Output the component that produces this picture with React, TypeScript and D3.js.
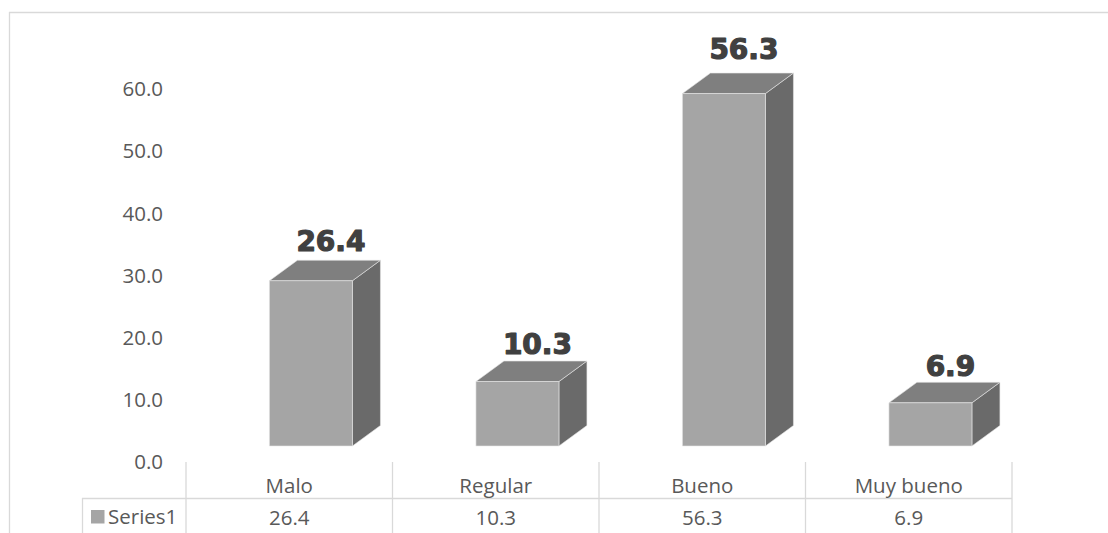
import React from "react";
import * as d3 from "d3";

const categories = ["Malo", "Regular", "Bueno", "Muy bueno"];
const values = [26.4, 10.3, 56.3, 6.9];
const yTicks = [0, 10, 20, 30, 40, 50, 60];
const seriesName = "Series1";

const W = 1108;
const H = 533;

export default function App() {
  const x = d3.scaleBand<string>().domain(categories).range([186, 1012]).paddingInner(0).paddingOuter(0);
  const bw = x.bandwidth();
  const yBar = d3.scaleLinear().domain([0, 60]).range([446, 70.4]);
  const yTickScale = d3.scaleLinear().domain([0, 60]).range([462, 89]);
  const yLabel = d3.scaleLinear().domain([0, 60]).range([420.7, 34.7]);
  const fmt = d3.format(".1f");
  const dx = 28;
  const dy = -20.5;

  const font = "'Open Sans', 'Noto Sans', sans-serif";
  const fs = 20.5;
  const textColor = "#595959";
  const lineColor = "#d9d9d9";

  return (
    <svg width={W} height={H} style={{ position: "absolute", left: 0, top: 0, background: "#fff" }}>
      {/* chart border */}
      <line x1={9} y1={12.5} x2={W} y2={12.5} stroke={lineColor} strokeWidth={1.3} />
      <line x1={9.5} y1={12} x2={9.5} y2={H} stroke={lineColor} strokeWidth={1.3} />

      {/* y tick labels */}
      {yTicks.map((t) => (
        <text key={t} x={163} y={yTickScale(t)} dy="0.35em" textAnchor="end" fontFamily={font} fontSize={fs} fill={textColor}>
          {fmt(t)}
        </text>
      ))}

      {/* bars */}
      {categories.map((c, i) => {
        const v = values[i];
        const x0 = (x(c) as number) + bw * 0.404;
        const w = bw * 0.402;
        const x1 = x0 + w;
        const yt = yBar(v);
        const yb = yBar(0);
        const front = `M${x0},${yb}L${x1},${yb}L${x1},${yt}L${x0},${yt}Z`;
        const top = `M${x0},${yt}L${x0 + dx},${yt + dy}L${x1 + dx},${yt + dy}L${x1},${yt}Z`;
        const side = `M${x1},${yb}L${x1 + dx},${yb + dy}L${x1 + dx},${yt + dy}L${x1},${yt}Z`;
        return (
          <g key={c}>
            <path d={side} fill="#6a6a6a" stroke="#e6e6e6" strokeWidth={0.6} />
            <path d={top} fill="#7f7f7f" stroke="#e6e6e6" strokeWidth={0.6} />
            <path d={front} fill="#a5a5a5" stroke="#e6e6e6" strokeWidth={0.6} />
            <text
              x={x0 + w / 2 + 20}
              y={yLabel(v)}
              textAnchor="middle"
              fontFamily="'DejaVu Sans', sans-serif"
              fontWeight="bold"
              fontSize={28}
              fill="#404040"
              stroke="#404040"
              strokeWidth={1.2}
              strokeLinejoin="round"
            >
              {fmt(v)}
            </text>
          </g>
        );
      })}

      {/* data table */}
      {categories.map((c) => (
        <line key={"v" + c} x1={x(c) as number} y1={462} x2={x(c) as number} y2={H} stroke={lineColor} strokeWidth={1.3} />
      ))}
      <line x1={1012} y1={462} x2={1012} y2={H} stroke={lineColor} strokeWidth={1.3} />
      <line x1={82} y1={498.5} x2={1012} y2={498.5} stroke={lineColor} strokeWidth={1.3} />
      <line x1={82.5} y1={498} x2={82.5} y2={H} stroke={lineColor} strokeWidth={1.3} />

      {categories.map((c, i) => (
        <g key={"t" + c}>
          <text x={(x(c) as number) + bw / 2} y={486} dy="0.35em" textAnchor="middle" fontFamily={font} fontSize={fs} fill={textColor}>
            {c}
          </text>
          <text x={(x(c) as number) + bw / 2} y={518} dy="0.35em" textAnchor="middle" fontFamily={font} fontSize={fs} fill={textColor}>
            {fmt(values[i])}
          </text>
        </g>
      ))}
      <rect x={91} y={510} width={13.5} height={13.5} fill="#a5a5a5" />
      <text x={108} y={517} dy="0.35em" fontFamily={font} fontSize={fs} fill={textColor}>
        {seriesName}
      </text>
    </svg>
  );
}
